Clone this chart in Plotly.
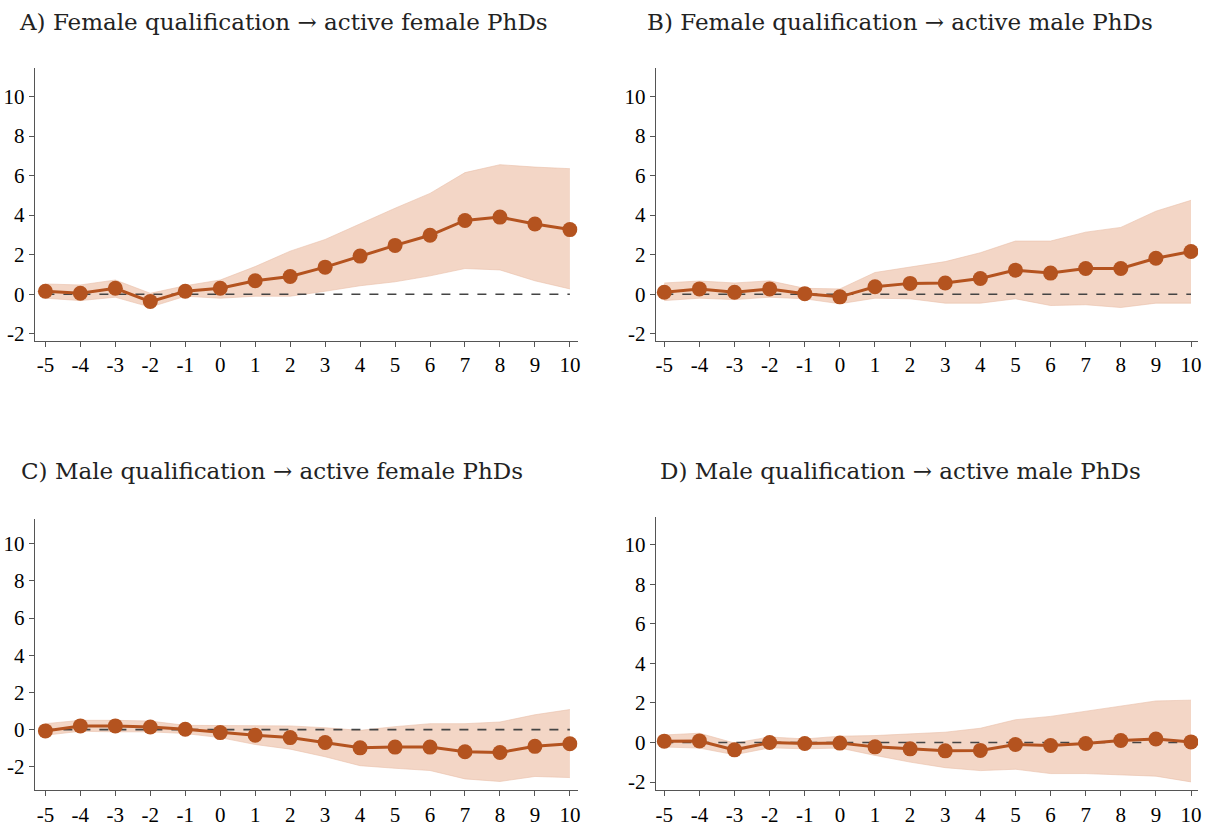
import plotly.graph_objects as go

years = [-5, -4, -3, -2, -1, 0, 1, 2, 3, 4, 5, 6, 7, 8, 9, 10]
tick_labels = [str(v) for v in years]
y_ticks = [-2, 0, 2, 4, 6, 8, 10]

titles = [
    "A) Female qualification \u2192 active female PhDs",
    "B) Female qualification \u2192 active male PhDs",
    "C) Male qualification \u2192 active female PhDs",
    "D) Male qualification \u2192 active male PhDs",
]

a_est = [0.15, 0.05, 0.3, -0.37, 0.15, 0.3, 0.68, 0.9, 1.37, 1.93, 2.47, 2.98, 3.73, 3.9, 3.55, 3.27]
a_hi = [0.52, 0.47, 0.72, 0.05, 0.43, 0.72, 1.4, 2.18, 2.77, 3.57, 4.35, 5.1, 6.15, 6.55, 6.43, 6.35]
a_lo = [-0.2, -0.32, -0.15, -0.65, -0.1, -0.2, -0.1, -0.1, 0.15, 0.43, 0.63, 0.93, 1.3, 1.23, 0.68, 0.27]

b_est = [0.1, 0.27, 0.1, 0.27, 0.03, -0.13, 0.38, 0.55, 0.57, 0.8, 1.22, 1.07, 1.3, 1.3, 1.82, 2.16]
b_hi = [0.57, 0.67, 0.57, 0.68, 0.3, 0.27, 1.1, 1.37, 1.65, 2.1, 2.69, 2.69, 3.14, 3.38, 4.2, 4.75]
b_lo = [-0.32, -0.2, -0.27, -0.15, -0.23, -0.48, -0.2, -0.23, -0.45, -0.45, -0.23, -0.57, -0.53, -0.67, -0.45, -0.45]

c_est = [-0.07, 0.2, 0.2, 0.14, 0.02, -0.16, -0.3, -0.43, -0.69, -0.98, -0.94, -0.94, -1.19, -1.23, -0.9, -0.76]
c_hi = [0.32, 0.5, 0.5, 0.46, 0.23, 0.23, 0.2, 0.2, 0.1, -0.04, 0.16, 0.32, 0.32, 0.41, 0.8, 1.08]
c_lo = [-0.3, -0.09, -0.12, -0.12, -0.21, -0.43, -0.8, -1.05, -1.46, -1.94, -2.08, -2.2, -2.65, -2.79, -2.52, -2.58]

d_est = [0.07, 0.08, -0.37, 0.0, -0.05, -0.03, -0.22, -0.32, -0.42, -0.4, -0.1, -0.15, -0.05, 0.1, 0.18, 0.03]
d_hi = [0.38, 0.47, -0.03, 0.28, 0.18, 0.32, 0.35, 0.42, 0.52, 0.72, 1.15, 1.32, 1.57, 1.82, 2.1, 2.14]
d_lo = [-0.23, -0.28, -0.62, -0.27, -0.32, -0.28, -0.65, -0.99, -1.27, -1.42, -1.35, -1.57, -1.57, -1.62, -1.7, -1.99]

zero_line = [0] * len(years)

panels = [
    (a_est, a_hi, a_lo),
    (b_est, b_hi, b_lo),
    (c_est, c_hi, c_lo),
    (d_est, d_hi, d_lo),
]

W, H = 1217, 830
# pixel boxes (left, right, top, bottom)
boxes = [
    (35, 579, 68, 343),
    (657.5, 1201, 68, 343),
    (35, 579, 522, 795),
    (657.5, 1201, 520, 795),
]
yranges = [[-2.36, 11.46], [-2.36, 11.46], [-3.26, 11.34], [-2.41, 11.4]]
xranges = [[-5.3, 10.22], [-5.24, 10.2], [-5.3, 10.22], [-5.24, 10.2]]
title_pos = [(17, 22), (647, 22), (19, 474), (660, 474)]

LINE = "#B4531F"
FILL = "#F3D6C6"
EDGE = "#E9BFA9"
AXC = "#555555"
TICKFONT = dict(family="Liberation Serif", size=21, color="#000000")

fig = go.Figure()
layout = {}
for i, (est, hi, lo) in enumerate(panels):
    n = "" if i == 0 else str(i + 1)
    xa, ya = "x" + n, "y" + n
    fig.add_trace(go.Scatter(x=years, y=hi, mode="lines", line=dict(color=EDGE, width=0.6),
                             xaxis=xa, yaxis=ya, showlegend=False, hoverinfo="skip"))
    fig.add_trace(go.Scatter(x=years, y=lo, mode="lines", line=dict(color=EDGE, width=0.6),
                             fill="tonexty", fillcolor=FILL,
                             xaxis=xa, yaxis=ya, showlegend=False, hoverinfo="skip"))
    fig.add_trace(go.Scatter(x=years, y=zero_line, mode="lines",
                             line=dict(color="#444444", width=1.6, dash="dash"),
                             xaxis=xa, yaxis=ya, showlegend=False, hoverinfo="skip"))
    fig.add_trace(go.Scatter(x=years, y=est, mode="lines+markers",
                             line=dict(color=LINE, width=3),
                             marker=dict(color=LINE, size=15),
                             xaxis=xa, yaxis=ya, showlegend=False))
    l, r, t, b = boxes[i]
    layout["xaxis" + n] = dict(
        domain=[l / W, r / W], range=xranges[i], anchor=ya,
        tickmode="array", tickvals=years, ticktext=tick_labels,
        showline=True, linecolor=AXC, linewidth=1.2, ticks="outside", ticklen=5,
        tickcolor=AXC, showgrid=False, zeroline=False, tickfont=TICKFONT,
    )
    layout["yaxis" + n] = dict(
        domain=[1 - b / H, 1 - t / H], range=yranges[i], anchor=xa,
        tickmode="array", tickvals=y_ticks, ticktext=[str(v) for v in y_ticks],
        showline=True, linecolor=AXC, linewidth=1.2, ticks="outside", ticklen=5,
        tickcolor=AXC, showgrid=False, zeroline=False, tickfont=TICKFONT,
        ticklabelstandoff=0,
    )

annotations = []
for (px, py), txt in zip(title_pos, titles):
    annotations.append(dict(
        text=txt, x=px / W, y=1 - py / H, xref="paper", yref="paper",
        xanchor="left", yanchor="middle", showarrow=False,
        font=dict(family="DejaVu Serif", size=23, color="#222222"),
    ))

fig.update_layout(
    width=W, height=H, margin=dict(l=0, r=0, t=0, b=0),
    paper_bgcolor="white", plot_bgcolor="white",
    annotations=annotations, **layout,
)

fig.write_html("out.html")
